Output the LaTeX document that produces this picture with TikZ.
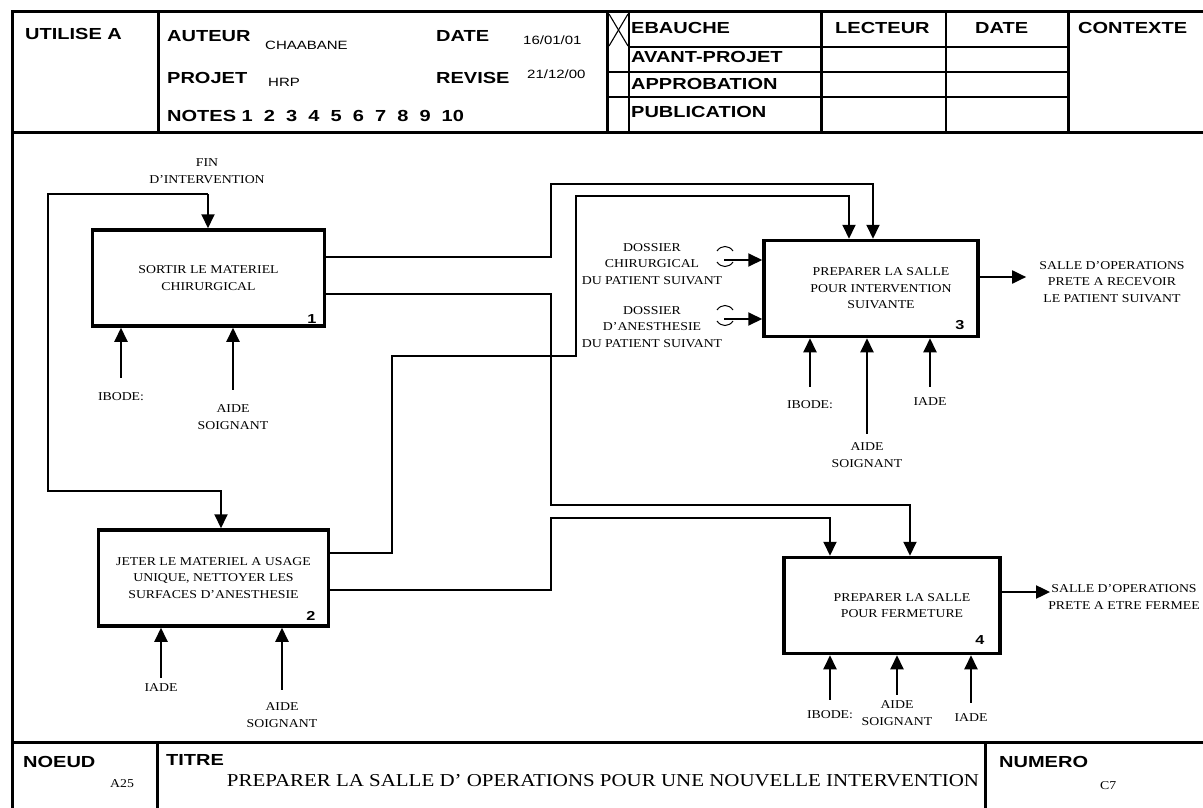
\documentclass[tikz,border=0pt]{standalone}
\usepackage{fontspec}
\usepackage{tikz}
\usetikzlibrary{arrows.meta}
\newfontfamily\hdrfont{Liberation Sans}[FakeStretch=1.25]
\newfontfamily\txtfont{Liberation Serif}[FakeStretch=1.15]

\begin{document}
\begin{tikzpicture}[x=1pt,y=-1pt,
    every node/.append style={inner sep=0pt},
    frame/.style={line width=3pt},
    rule/.style={line width=1.1pt},
    actbox/.style={draw,line width=3.5pt,align=center,font=\txtfont\fontsize{12}{16.5}\selectfont},
    flow/.style={line width=2pt,-{Triangle[length=14pt,width=13pt]}},
    link/.style={line width=2pt},
    tunnel/.style={line width=1pt},
    lbl/.style={align=center,font=\txtfont\fontsize{12}{16.5}\selectfont},
    hdr/.style={anchor=west,font=\hdrfont\bfseries\fontsize{16}{18}\selectfont},
    hval/.style={anchor=west,font=\hdrfont\fontsize{12}{14}\selectfont},
    boxno/.style={font=\hdrfont\bfseries\fontsize{13}{14}\selectfont}]
    \fill[white] (0,0) rectangle (1203,808);
    \useasboundingbox (0,0) rectangle (1203,808);

    % cadre et cartouche
    \draw[frame] (12,808) -- (12,12) -- (1203,12);
    \draw[frame] (12,132) -- (1203,132);
    \draw[frame] (158,12) -- (158,132);
    \draw[frame] (607,12) -- (607,132);
    \draw[frame] (821,12) -- (821,132);
    \draw[frame] (1068,12) -- (1068,132);
    \draw[rule] (629,12) -- (629,132);
    \draw[rule] (946,12) -- (946,132);
    \draw[rule] (629,47) -- (1068,47);
    \draw[rule] (607,72) -- (1068,72);
    \draw[rule] (607,97) -- (1068,97);
    \draw[rule] (609,14) -- (628,46);
    \draw[rule] (628,14) -- (609,46);

    \node[hdr] (utilise) at (25,34) {UTILISE A};
    \node[hdr] (auteur) at (167,36) {AUTEUR};
    \node[hval] (nom) at (265,45) {CHAABANE};
    \node[hdr] (date) at (436,36) {DATE};
    \node[hval] (dateval) at (523,40) {16/01/01};
    \node[hdr] (projet) at (167,78) {PROJET};
    \node[hval] (projval) at (268,82) {HRP};
    \node[hdr] (revise) at (436,78) {REVISE};
    \node[hval] (revval) at (527,74) {21/12/00};
    \node[hdr] (notes) at (167,116) {NOTES 1~~2~~3~~4~~5~~6~~7~~8~~9~~10};
    \node[hdr] (ebauche) at (631,28) {EBAUCHE};
    \node[hdr] (avant) at (631,57) {AVANT-PROJET};
    \node[hdr] (approb) at (631,84) {APPROBATION};
    \node[hdr] (public) at (631,112) {PUBLICATION};
    \node[hdr] (lecteur) at (835,28) {LECTEUR};
    \node[hdr] (datelec) at (975,28) {DATE};
    \node[hdr] (contexte) at (1078,28) {CONTEXTE};

    % activites
    \node[actbox,minimum width=232pt,minimum height=96pt] (b1) at (208.5,278) {SORTIR LE MATERIEL\\CHIRURGICAL};
    \node[actbox,minimum width=230pt,minimum height=96pt] (b2) at (213.5,578) {JETER LE MATERIEL A USAGE\\UNIQUE, NETTOYER LES\\SURFACES D’ANESTHESIE};
    \node[actbox,minimum width=214pt,minimum height=96pt] (b3) at (871,288.5) {\hspace*{20pt}PREPARER LA SALLE\\\hspace*{20pt}POUR INTERVENTION\\\hspace*{20pt}SUIVANTE};
    \node[actbox,minimum width=216pt,minimum height=96pt] (b4) at (892,605.5) {\hspace*{20pt}PREPARER LA SALLE\\\hspace*{20pt}POUR FERMETURE};
    \node[boxno] (n1) at (312,319) {1};
    \node[boxno] (n2) at (311,616) {2};
    \node[boxno] (n3) at (960,325) {3};
    \node[boxno] (n4) at (980,640) {4};

    % entrees
    \node[lbl] (fin) at (207,171) {FIN\\D’INTERVENTION};
    \coordinate (fj) at (208,194);
    \draw[flow] (fj) -- (fj |- b1.north);
    \draw[flow] (fj) -| (48,491) -| (b2.north -| 221,0);
    \node[lbl] (dchir) at (652,264) {DOSSIER\\CHIRURGICAL\\DU PATIENT SUIVANT};
    \node[lbl] (danes) at (652,327) {DOSSIER\\D’ANESTHESIE\\DU PATIENT SUIVANT};
    \coordinate (tc) at (724,260);
    \coordinate (ta) at (724,319);
    \draw[flow] (tc) -- (tc -| b3.west);
    \draw[flow] (ta) -- (ta -| b3.west);
    \draw[tunnel] (717,251) .. controls (721,245) and (729,245) .. (733,251);
    \draw[tunnel] (717,262) .. controls (721,268) and (729,268) .. (733,262);
    \draw[tunnel] (717,310) .. controls (721,304) and (729,304) .. (733,310);
    \draw[tunnel] (717,321) .. controls (721,327) and (729,327) .. (733,321);

    % liens entre activites
    \draw[flow] (b1.east |- 0,257) -| (551,184) -| (b3.north -| 873,0);
    \draw[flow] (b1.east |- 0,294) -| (551,505) -| (b4.north -| 910,0);
    \draw[flow] (b2.east |- 0,553) -| (392,356) -| (576,196) -| (b3.north -| 849,0);
    \draw[flow] (b2.east |- 0,590) -| (551,518) -| (b4.north -| 830,0);

    % sorties
    \node[lbl] (out3) at (1112,282) {SALLE D’OPERATIONS\\PRETE A RECEVOIR\\LE PATIENT SUIVANT};
    \node[lbl] (out4) at (1124,597) {SALLE D’OPERATIONS\\PRETE A ETRE FERMEE};
    \draw[flow] (b3.east |- 0,277) -- ([xshift=-13pt]out3.west |- 0,277);
    \draw[flow] (b4.east |- 0,592) -- ([xshift=2pt]out4.west |- 0,592);

    % mecanismes
    \node[lbl] (ib1) at (121,397) {IBODE:};
    \node[lbl] (as1) at (233,417) {AIDE\\SOIGNANT};
    \draw[flow] ([yshift=15pt]ib1.north) -- (ib1.north |- b1.south);
    \draw[flow] ([yshift=15pt]as1.north) -- (as1.north |- b1.south);
    \node[lbl] (ia2) at (161,688) {IADE};
    \node[lbl] (as2) at (282,715) {AIDE\\SOIGNANT};
    \draw[flow] ([yshift=6pt]ia2.north) -- (ia2.north |- b2.south);
    \draw[flow] ([yshift=13pt]as2.north) -- (as2.north |- b2.south);
    \node[lbl] (ib3) at (810,405) {IBODE:};
    \node[lbl] (as3) at (867,455) {AIDE\\SOIGNANT};
    \node[lbl] (ia3) at (930,402) {IADE};
    \draw[flow] ([yshift=14pt]ib3.north) -- (ib3.north |- b3.south);
    \draw[flow] ([yshift=9pt]as3.north) -- (as3.north |- b3.south);
    \draw[flow] ([yshift=11pt]ia3.north) -- (ia3.north |- b3.south);
    \node[lbl] (ib4) at (830,715) {IBODE:};
    \node[lbl] (as4) at (897,713) {AIDE\\SOIGNANT};
    \node[lbl] (ia4) at (971,718) {IADE};
    \draw[flow] ([yshift=11pt]ib4.north) -- (ib4.north |- b4.south);
    \draw[flow] ([yshift=6pt]as4.north) -- (as4.north |- b4.south);
    \draw[flow] ([yshift=11pt]ia4.north) -- (ia4.north |- b4.south);

    % pied de page
    \draw[frame] (12,742) -- (1203,742);
    \draw[frame] (157,742) -- (157,808);
    \draw[frame] (985,742) -- (985,808);
    \node[hdr] (noeud) at (23,762) {NOEUD};
    \node[lbl,anchor=west] (noeudval) at (110,784) {A25};
    \node[hdr] (titre) at (166,760) {TITRE};
    \node[lbl,font=\txtfont\fontsize{18.2}{20}\selectfont] (titreval) at (603,781) {PREPARER LA SALLE D’ OPERATIONS POUR UNE NOUVELLE INTERVENTION};
    \node[hdr] (numero) at (999,762) {NUMERO};
    \node[lbl,anchor=west] (numval) at (1100,786) {C7};
\end{tikzpicture}
\end{document}
